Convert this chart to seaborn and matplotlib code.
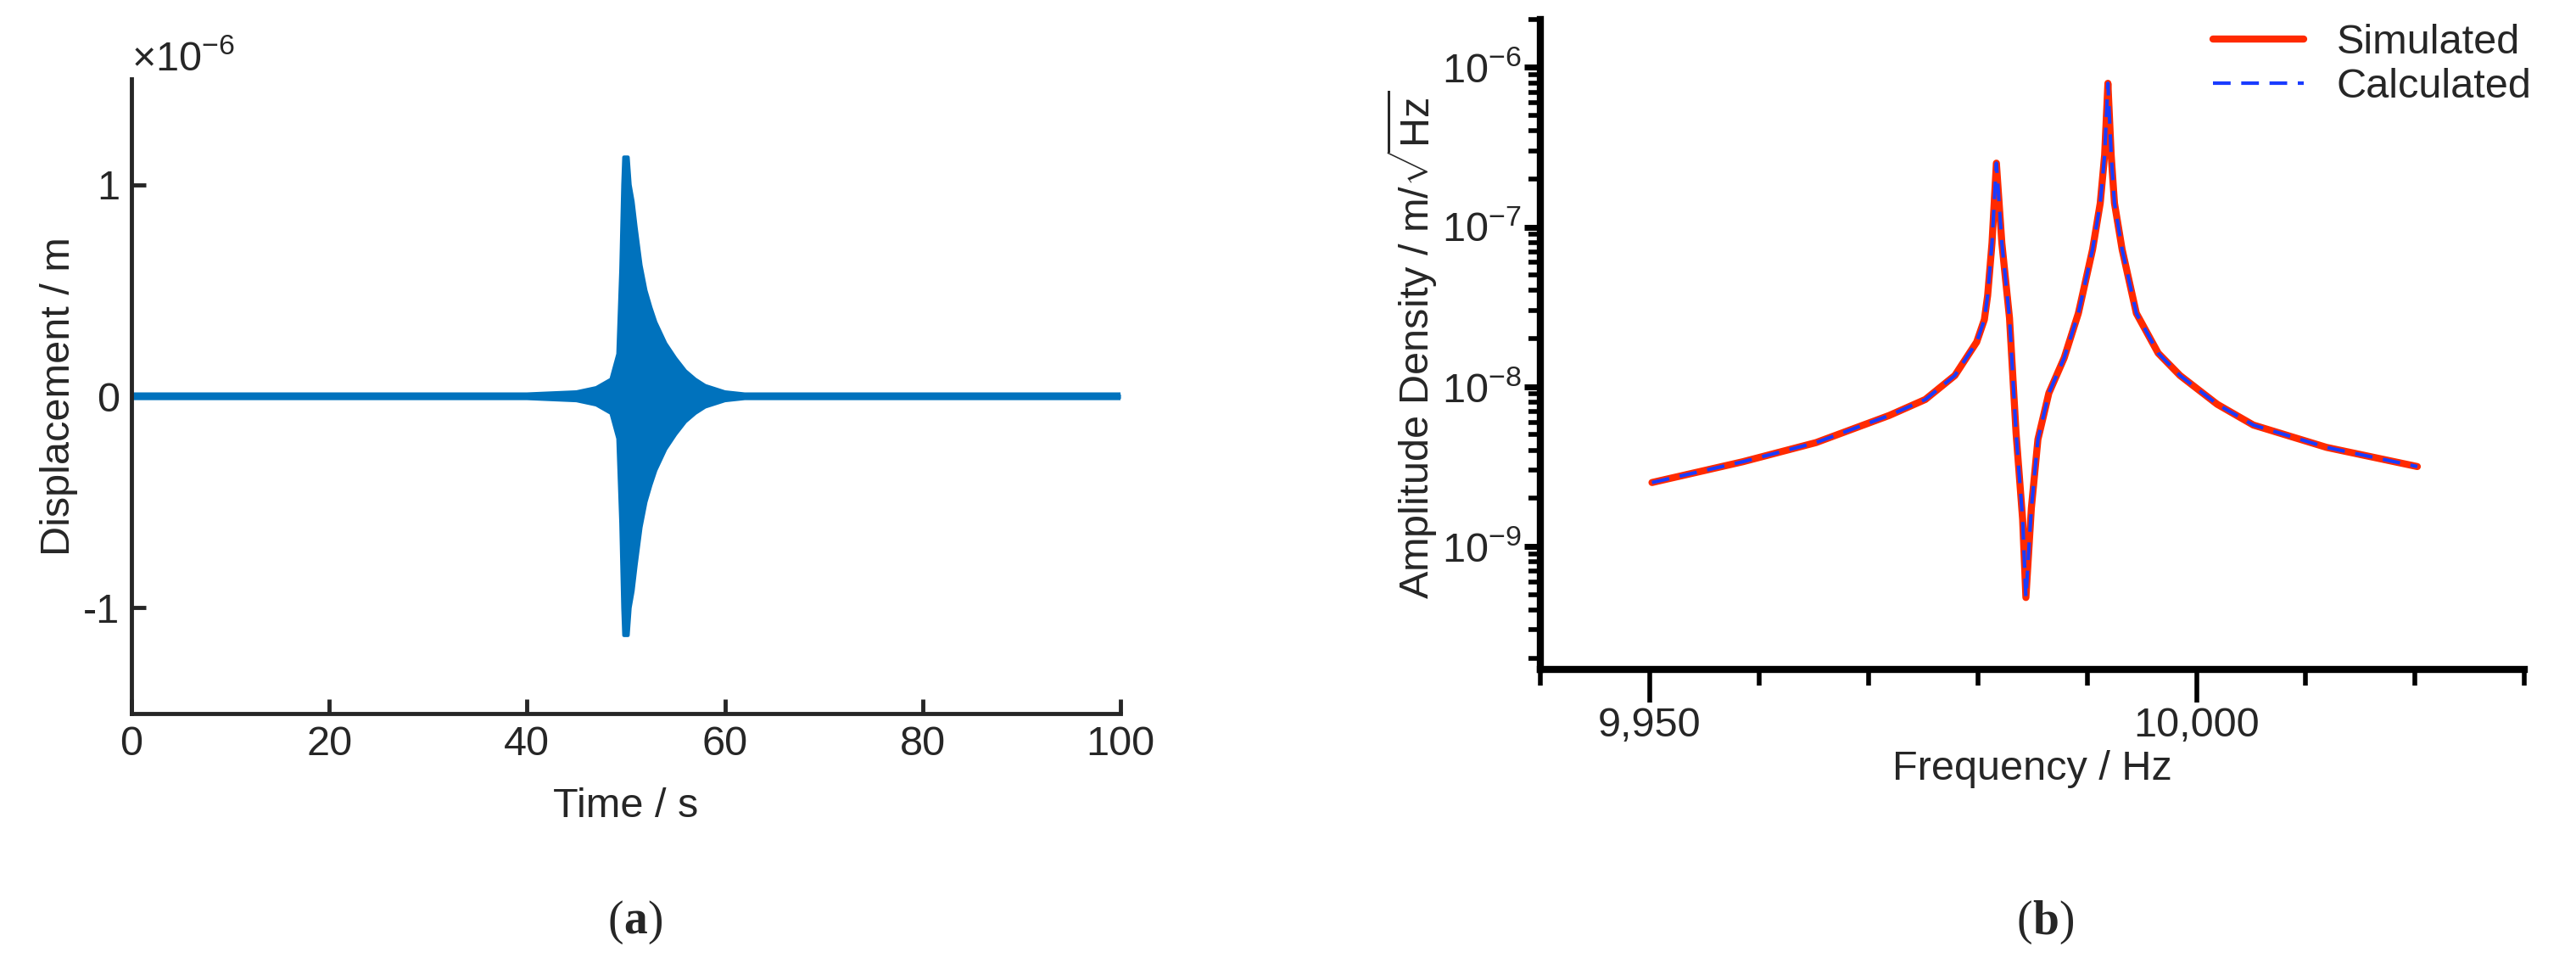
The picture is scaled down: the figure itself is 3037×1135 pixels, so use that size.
import numpy as np
import matplotlib
matplotlib.use("Agg")
import matplotlib.pyplot as plt
import seaborn as sns
from matplotlib.ticker import FuncFormatter, FixedLocator, LogLocator, NullFormatter

sns.set_theme(style="ticks")
plt.rcParams['font.family'] = ['Liberation Sans', 'DejaVu Sans']
plt.rcParams['mathtext.fontset'] = 'custom'
plt.rcParams['mathtext.rm'] = 'Liberation Sans'
plt.rcParams['mathtext.it'] = 'Liberation Sans:italic'

# (a) envelope of displacement (units 1e-6 m)
time_s = [0, 40, 45, 47, 48.5, 49.2, 49.5, 49.7, 49.8, 50.2, 50.4, 50.7, 51.0, 51.5, 52.0, 52.5,
          53.0, 54.0, 55.0, 56.0, 57.0, 58.0, 60.0, 62.0, 100]
envelope = [0.01, 0.01, 0.02, 0.04, 0.08, 0.2, 0.6, 1.0, 1.13, 1.13, 1.0, 0.92, 0.8, 0.62, 0.5, 0.42,
            0.35, 0.25, 0.18, 0.12, 0.08, 0.05, 0.02, 0.01, 0.01]

# (b) amplitude density spectrum
freq_hz = [9950.2, 9958.5, 9965.2, 9971.9, 9975.2, 9977.9, 9979.9, 9980.6, 9980.9, 9981.3, 9981.7,
           9982.2, 9982.9, 9983.5, 9984.1, 9984.4, 9984.9, 9985.5, 9986.5, 9987.9, 9989.2, 9990.5,
           9991.2, 9991.6, 9991.9, 9992.2, 9992.5, 9993.2, 9994.5, 9996.5, 9998.5, 10001.9, 10005.2,
           10011.9, 10020.2]
log_amp = [-8.60, -8.47, -8.35, -8.18, -8.08, -7.93, -7.72, -7.58, -7.43, -7.10, -6.60,
           -7.10, -7.57, -8.29, -8.83, -9.32, -8.76, -8.33, -8.04, -7.82, -7.54, -7.14,
           -6.85, -6.55, -6.10, -6.55, -6.85, -7.14, -7.54, -7.79, -7.93, -8.11, -8.24,
           -8.38, -8.50]
simulated = [10 ** v for v in log_amp]
calculated = [10 ** v for v in log_amp]

W, H = 3037, 1135
fig = plt.figure(figsize=(W / 100, H / 100), dpi=100)
FS = 35
C = '#262626'

# ---------- panel a ----------
ax1 = fig.add_axes([0.051, 0.259, 0.384, 0.659])
blue = '#0072BD'
ax1.fill_between(time_s, [-e for e in envelope], envelope, color=blue, lw=0)
sns.lineplot(x=time_s, y=envelope, ax=ax1, color=blue, lw=3, estimator=None)
sns.lineplot(x=time_s, y=[-e for e in envelope], ax=ax1, color=blue, lw=3, estimator=None)
ax1.set_xlim(0, 100)
ax1.set_ylim(-1.5, 1.5)
ax1.set_xticks([0, 20, 40, 60, 80, 100])
ax1.set_yticks([-1, 0, 1])
ax1.set_yticklabels(['-1', '0', '1'])
for s in ['top', 'right']:
    ax1.spines[s].set_visible(False)
for s in ['left', 'bottom']:
    ax1.spines[s].set_color(C)
    ax1.spines[s].set_linewidth(3.5)
ax1.tick_params(direction='in', length=12, width=3.5, color=C, labelsize=FS,
                labelcolor=C, pad=10)
ax1.set_xlabel('Time / s', fontsize=FS, color=C, labelpad=20)
ax1.set_ylabel('Displacement / m', fontsize=FS, color=C, labelpad=4)
ax1.text(0.0, 1.0, r'$\times10^{-6}$', transform=ax1.transAxes, fontsize=FS,
         color=C, va='bottom', ha='left')

# ---------- panel b ----------
ax2 = fig.add_axes([0.598, 0.305, 0.382, 0.675])
sns.lineplot(x=freq_hz, y=simulated, ax=ax2, color='#FF2A00', lw=6, label='Simulated', estimator=None)
sns.lineplot(x=freq_hz, y=calculated, ax=ax2, color='#1A3CFF', lw=3, label='Calculated',
             estimator=None, linestyle=(0, (5, 3)))
ax2.set_yscale('log')
ax2.set_xlim(9940, 10030)
ax2.set_ylim(1.7e-10, 2.0e-6)
ax2.xaxis.set_major_locator(FixedLocator([9950, 10000]))
ax2.xaxis.set_minor_locator(FixedLocator([9940, 9960, 9970, 9980, 9990, 10010, 10020, 10030]))
ax2.xaxis.set_major_formatter(FuncFormatter(lambda v, p: f'{int(round(v)):,}'))
ax2.yaxis.set_major_locator(LogLocator(base=10, numticks=20))
ax2.yaxis.set_minor_locator(LogLocator(base=10, subs=np.arange(2, 10), numticks=20))
ax2.yaxis.set_minor_formatter(NullFormatter())
for s in ['top', 'right']:
    ax2.spines[s].set_visible(False)
for s in ['left', 'bottom']:
    ax2.spines[s].set_color('black')
    ax2.spines[s].set_linewidth(6)
ax2.tick_params(axis='x', which='major', direction='out', length=28, width=4, color='black',
                labelsize=FS, pad=4)
ax2.tick_params(axis='x', which='minor', direction='out', length=14, width=4, color='black')
ax2.tick_params(axis='y', which='major', direction='out', length=14, width=5, color='black',
                labelsize=FS, pad=2)
ax2.tick_params(axis='y', which='minor', direction='out', length=10, width=4, color='black')
ax2.set_xlabel('Frequency / Hz', fontsize=FS, labelpad=4)
ax2.set_ylabel(r'Amplitude Density / m/$\sqrt{\mathrm{Hz}}$', fontsize=FS, labelpad=2)
leg = ax2.legend(loc='upper right', bbox_to_anchor=(1.045, 1.05), frameon=False, fontsize=FS,
                 handlelength=2.2, labelspacing=0.15, handletextpad=0.8)

fig.text(0.242, 0.03, '(', fontsize=40, family='Liberation Serif', ha='right')
fig.text(0.242, 0.03, 'a', fontsize=40, fontweight='bold', family='Liberation Serif', ha='left')
fig.text(0.2513, 0.03, ')', fontsize=40, family='Liberation Serif', ha='left')
fig.text(0.789, 0.03, '(', fontsize=40, family='Liberation Serif', ha='right')
fig.text(0.789, 0.03, 'b', fontsize=40, fontweight='bold', family='Liberation Serif', ha='left')
fig.text(0.7993, 0.03, ')', fontsize=40, family='Liberation Serif', ha='left')

fig.savefig('out.png', dpi=100, facecolor='white')
